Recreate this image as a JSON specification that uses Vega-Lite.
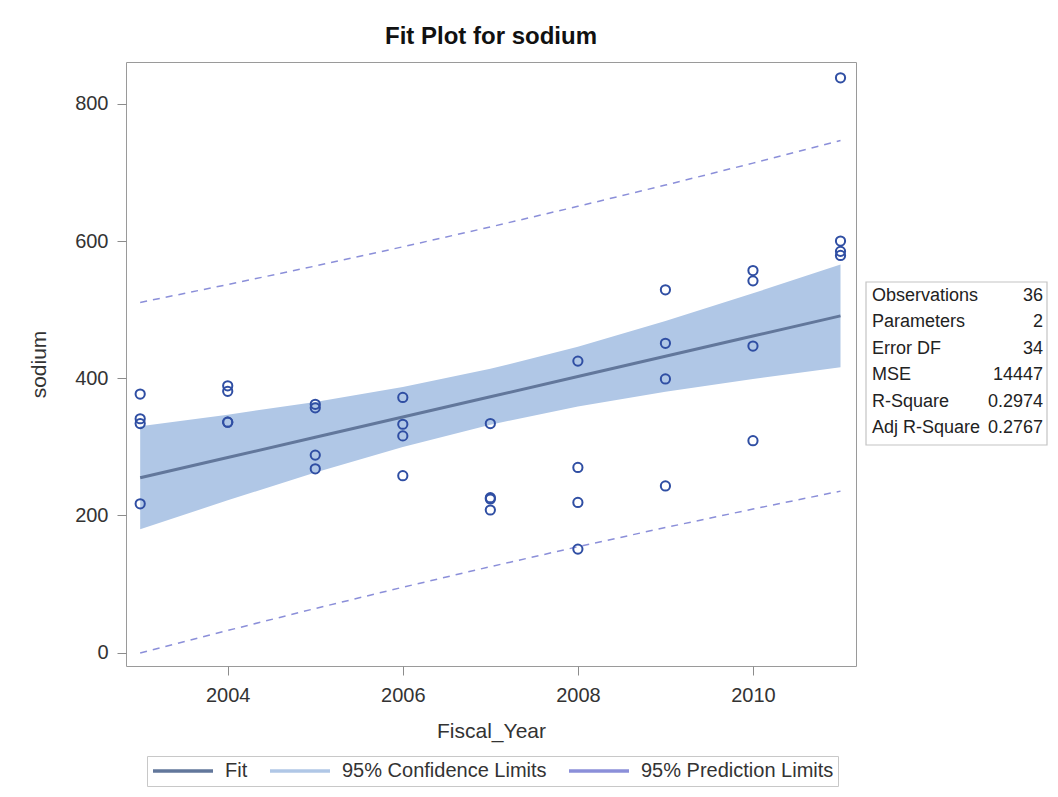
{
  "$schema": "https://vega.github.io/schema/vega-lite/v6.json",
  "width": 730,
  "height": 604,
  "autosize": {"type": "none"},
  "padding": {"left": 126, "top": 62, "right": 202, "bottom": 131},
  "background": "white",
  "config": {
    "view": {"stroke": "#9a9a9a", "strokeWidth": 1},
    "font": "Liberation Sans"
  },
  "title": {
    "text": "Fit Plot for sodium",
    "font": "Liberation Sans",
    "fontSize": 24,
    "fontWeight": "bold",
    "color": "#111111",
    "anchor": "middle",
    "baseline": "alphabetic",
    "offset": -6
  },
  "datasets": {
    "obs": [
      {"Fiscal_Year": 2003, "sodium": 377},
      {"Fiscal_Year": 2003, "sodium": 341},
      {"Fiscal_Year": 2003, "sodium": 334},
      {"Fiscal_Year": 2003, "sodium": 217},
      {"Fiscal_Year": 2004, "sodium": 389},
      {"Fiscal_Year": 2004, "sodium": 381},
      {"Fiscal_Year": 2004, "sodium": 336},
      {"Fiscal_Year": 2004, "sodium": 336},
      {"Fiscal_Year": 2005, "sodium": 362},
      {"Fiscal_Year": 2005, "sodium": 357},
      {"Fiscal_Year": 2005, "sodium": 288},
      {"Fiscal_Year": 2005, "sodium": 268},
      {"Fiscal_Year": 2006, "sodium": 372},
      {"Fiscal_Year": 2006, "sodium": 333},
      {"Fiscal_Year": 2006, "sodium": 316},
      {"Fiscal_Year": 2006, "sodium": 258},
      {"Fiscal_Year": 2007, "sodium": 334},
      {"Fiscal_Year": 2007, "sodium": 226},
      {"Fiscal_Year": 2007, "sodium": 224},
      {"Fiscal_Year": 2007, "sodium": 208},
      {"Fiscal_Year": 2008, "sodium": 425},
      {"Fiscal_Year": 2008, "sodium": 270},
      {"Fiscal_Year": 2008, "sodium": 219},
      {"Fiscal_Year": 2008, "sodium": 151},
      {"Fiscal_Year": 2009, "sodium": 529},
      {"Fiscal_Year": 2009, "sodium": 451},
      {"Fiscal_Year": 2009, "sodium": 399},
      {"Fiscal_Year": 2009, "sodium": 243},
      {"Fiscal_Year": 2010, "sodium": 557},
      {"Fiscal_Year": 2010, "sodium": 542},
      {"Fiscal_Year": 2010, "sodium": 447},
      {"Fiscal_Year": 2010, "sodium": 309},
      {"Fiscal_Year": 2011, "sodium": 838},
      {"Fiscal_Year": 2011, "sodium": 600},
      {"Fiscal_Year": 2011, "sodium": 585},
      {"Fiscal_Year": 2011, "sodium": 579}
    ],
    "fit": [
      {"Fiscal_Year": 2003, "fit": 255.0, "lclm": 180.0, "uclm": 330.0, "lcl": -0.5, "ucl": 510.5},
      {"Fiscal_Year": 2004, "fit": 284.5, "lclm": 222.1, "uclm": 346.9, "lcl": 32.4, "ucl": 536.6},
      {"Fiscal_Year": 2005, "fit": 314.0, "lclm": 262.5, "uclm": 365.5, "lcl": 64.4, "ucl": 563.6},
      {"Fiscal_Year": 2006, "fit": 343.5, "lclm": 299.9, "uclm": 387.1, "lcl": 95.4, "ucl": 591.6},
      {"Fiscal_Year": 2007, "fit": 373.0, "lclm": 332.3, "uclm": 413.7, "lcl": 125.4, "ucl": 620.6},
      {"Fiscal_Year": 2008, "fit": 402.5, "lclm": 358.9, "uclm": 446.1, "lcl": 154.4, "ucl": 650.6},
      {"Fiscal_Year": 2009, "fit": 432.0, "lclm": 380.5, "uclm": 483.5, "lcl": 182.4, "ucl": 681.6},
      {"Fiscal_Year": 2010, "fit": 461.5, "lclm": 399.1, "uclm": 523.9, "lcl": 209.4, "ucl": 713.6},
      {"Fiscal_Year": 2011, "fit": 491.0, "lclm": 416.0, "uclm": 566.0, "lcl": 235.5, "ucl": 746.5}
    ],
    "stats": [
      {"stat": "Observations", "value": "36"},
      {"stat": "Parameters", "value": "2"},
      {"stat": "Error DF", "value": "34"},
      {"stat": "MSE", "value": "14447"},
      {"stat": "R-Square", "value": "0.2974"},
      {"stat": "Adj R-Square", "value": "0.2767"}
    ]
  },
  "layer": [
    {
      "layer": [
        {
          "data": {"name": "fit"},
          "mark": {"type": "area", "opacity": 1, "color": "#b0c7e6"},
          "encoding": {
            "x": {
              "field": "Fiscal_Year", "type": "quantitative",
              "scale": {"domain": [2002.838, 2011.177], "nice": false, "zero": false},
              "axis": {
                "values": [2004, 2006, 2008, 2010], "format": "d", "grid": false, "domain": false,
                "tickColor": "#8c8c8c", "tickSize": 9, "labelPadding": 10, "labelFlush": false,
                "labelFont": "Liberation Sans", "labelFontSize": 20, "labelColor": "#333333",
                "title": "Fiscal_Year", "titleFont": "Liberation Sans", "titleFontSize": 21, "titleFontWeight": "normal",
                "titleColor": "#333333", "titleY": 71, "titleBaseline": "alphabetic"
              }
            },
            "y": {
              "field": "lclm", "type": "quantitative",
              "scale": {"domain": [-19.4, 861], "nice": false, "zero": false},
              "axis": {
                "values": [0, 200, 400, 600, 800], "grid": false, "domain": false,
                "tickColor": "#8c8c8c", "tickSize": 9, "labelPadding": 9, "labelFlush": false,
                "labelFont": "Liberation Sans", "labelFontSize": 20, "labelColor": "#333333",
                "title": "sodium", "titleFont": "Liberation Sans", "titleFontSize": 21, "titleFontWeight": "normal",
                "titleColor": "#333333", "titleX": -81, "titleY": 302, "titleBaseline": "alphabetic", "titleAlign": "center"
              }
            },
            "y2": {"field": "uclm"}
          }
        },
        {
          "data": {"name": "fit"},
          "mark": {"type": "line", "strokeWidth": 3},
          "encoding": {
            "x": {"field": "Fiscal_Year", "type": "quantitative"},
            "y": {"field": "fit", "type": "quantitative"},
            "color": {
              "datum": "Fit",
              "scale": {
                "domain": ["Fit", "95% Confidence Limits", "95% Prediction Limits"],
                "range": ["#62779b", "#b0c7e6", "#8b8fd9"]
              },
              "legend": {
                "title": null,
                "orient": "none",
                "direction": "horizontal",
                "legendX": 21,
                "legendY": 694,
                "padding": 4,
                "strokeColor": "#c8c8c8",
                "fillColor": "white",
                "labelFont": "Liberation Sans",
                "labelFontSize": 20,
                "labelColor": "#333333",
                "labelLimit": 400,
                "labelOffset": 10,
                "columnPadding": 20,
                "symbolType": "stroke",
                "symbolStrokeWidth": 3.5,
                "symbolSize": 3600,
                "symbolOpacity": 1,
                "clipHeight": 22
              }
            }
          }
        },
        {
          "data": {"name": "fit"},
          "transform": [{"fold": ["lcl", "ucl"], "as": ["bound", "limit"]}],
          "mark": {"type": "line", "strokeWidth": 1.5, "strokeDash": [7, 6], "color": "#8b8fd9"},
          "encoding": {
            "x": {"field": "Fiscal_Year", "type": "quantitative"},
            "y": {"field": "limit", "type": "quantitative"},
            "detail": {"field": "bound", "type": "nominal"}
          }
        },
        {
          "data": {"name": "obs"},
          "mark": {"type": "point", "filled": false, "shape": "circle", "size": 85, "strokeWidth": 2, "color": "#2f4ea3", "opacity": 1},
          "encoding": {
            "x": {"field": "Fiscal_Year", "type": "quantitative"},
            "y": {"field": "sodium", "type": "quantitative"}
          }
        }
      ]
    },
    {
      "data": {"values": [{"box": "fit statistics"}]},
      "mark": {"type": "rect", "fill": "white", "stroke": "#c4c4c4", "strokeWidth": 1.2},
      "encoding": {
        "x": {"datum": 0, "type": "quantitative", "scale": {"domain": [0, 1], "range": [740, 921]}, "axis": null},
        "x2": {"datum": 1},
        "y": {"datum": 0, "type": "quantitative", "scale": {"domain": [0, 1], "range": [220, 383]}, "axis": null},
        "y2": {"datum": 1}
      }
    },
    {
      "data": {"name": "stats"},
      "layer": [
        {
          "mark": {"type": "text", "align": "left", "baseline": "middle", "font": "Liberation Sans", "fontSize": 18, "color": "#222222"},
          "encoding": {
            "x": {"datum": 0, "type": "quantitative", "scale": {"domain": [0, 1], "range": [746, 917]}, "axis": null},
            "y": {"field": "stat", "type": "ordinal", "sort": null, "scale": {"type": "point", "padding": 0, "range": [234, 366]}, "axis": null},
            "text": {"field": "stat"}
          }
        },
        {
          "mark": {"type": "text", "align": "right", "baseline": "middle", "font": "Liberation Sans", "fontSize": 18, "color": "#222222"},
          "encoding": {
            "x": {"datum": 1, "type": "quantitative", "axis": null},
            "y": {"field": "stat", "type": "ordinal", "sort": null, "axis": null},
            "text": {"field": "value"}
          }
        }
      ]
    }
  ],
  "resolve": {"scale": {"x": "independent", "y": "independent"}}
}
